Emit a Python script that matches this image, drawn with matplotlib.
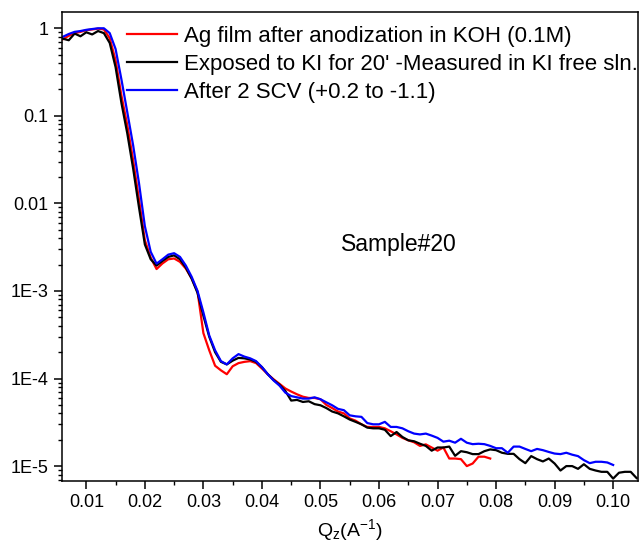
import numpy as np
import matplotlib
matplotlib.use("Agg")
import matplotlib.pyplot as plt
from matplotlib.ticker import FixedLocator, MultipleLocator, NullFormatter, LogLocator

plt.rcParams['font.family'] = ['Liberation Sans', 'DejaVu Sans']
plt.rcParams['mathtext.fontset'] = 'custom'
plt.rcParams['mathtext.rm'] = 'Liberation Sans'
plt.rcParams['mathtext.it'] = 'Liberation Sans'

# Ag film after anodization in KOH (0.1M) -- q from 0.006 to 0.079
q_red = np.round(np.arange(0.006, 0.0795, 0.001), 3)
r_red = [0.75, 0.82, 0.88, 0.91, 0.95, 0.97, 0.99, 0.97, 0.77, 0.43,
         0.17, 0.078, 0.031, 0.011, 3.8e-3, 2.4e-3, 1.78e-3, 2.06e-3, 2.3e-3, 2.35e-3,
         2.15e-3, 1.8e-3, 1.39e-3, 9.8e-4, 3.3e-4, 2.1e-4, 1.4e-4, 1.24e-4, 1.12e-4, 1.38e-4,
         1.5e-4, 1.55e-4, 1.58e-4, 1.5e-4, 1.3e-4, 1.12e-4, 9.8e-5, 8.7e-5, 7.7e-5, 7.1e-5,
         6.6e-5, 6.2e-5, 6.0e-5, 6.0e-5, 5.8e-5, 5.0e-5, 4.6e-5, 4.2e-5, 4.0e-5, 3.5e-5,
         3.3e-5, 3.0e-5, 2.8e-5, 2.8e-5, 2.8e-5, 2.7e-5, 2.5e-5, 2.3e-5, 2.1e-5, 1.97e-5,
         1.87e-5, 1.7e-5, 1.77e-5, 1.63e-5, 1.5e-5, 1.63e-5, 1.22e-5, 1.22e-5, 1.2e-5, 1.0e-5,
         1.07e-5, 1.28e-5, 1.28e-5, 1.22e-5]

# Exposed to KI for 20' -- q from 0.006 to 0.104
q_black = np.round(np.arange(0.006, 0.1045, 0.001), 3)
r_black = [0.76, 0.73, 0.87, 0.81, 0.90, 0.85, 0.93, 0.88, 0.68, 0.36,
           0.14, 0.063, 0.025, 9e-3, 3.4e-3, 2.3e-3, 1.95e-3, 2.2e-3, 2.45e-3, 2.55e-3,
           2.3e-3, 1.85e-3, 1.38e-3, 9.5e-4, 5.2e-4, 3.0e-4, 2.0e-4, 1.55e-4, 1.45e-4, 1.6e-4,
           1.72e-4, 1.7e-4, 1.65e-4, 1.55e-4, 1.35e-4, 1.12e-4, 9.6e-5, 8.5e-5, 7.2e-5, 5.6e-5,
           5.7e-5, 5.4e-5, 5.5e-5, 5.1e-5, 4.95e-5, 4.6e-5, 4.2e-5, 4.0e-5, 3.7e-5, 3.4e-5,
           3.2e-5, 3.0e-5, 2.75e-5, 2.7e-5, 2.7e-5, 2.6e-5, 2.2e-5, 2.45e-5, 2.15e-5, 1.97e-5,
           1.92e-5, 1.8e-5, 1.7e-5, 1.5e-5, 1.63e-5, 1.63e-5, 1.67e-5, 1.31e-5, 1.48e-5, 1.44e-5,
           1.37e-5, 1.37e-5, 1.48e-5, 1.55e-5, 1.52e-5, 1.42e-5, 1.38e-5, 1.38e-5, 1.2e-5, 1.08e-5,
           1.3e-5, 1.2e-5, 1.13e-5, 1.22e-5, 1.07e-5, 8.9e-6, 1.0e-5, 1.0e-5, 9.3e-6, 1.05e-5,
           9.3e-6, 8.9e-6, 8.6e-6, 8.6e-6, 7.2e-6, 8.4e-6, 8.6e-6, 8.6e-6, 7.3e-6]

# After 2 SCV -- q from 0.006 to 0.100
q_blue = np.round(np.arange(0.006, 0.1005, 0.001), 3)
r_blue = [0.80, 0.86, 0.91, 0.93, 0.96, 0.98, 1.0, 1.0, 0.88, 0.58,
          0.26, 0.11, 0.046, 0.017, 5.5e-3, 2.8e-3, 2.05e-3, 2.3e-3, 2.6e-3, 2.7e-3,
          2.45e-3, 1.95e-3, 1.45e-3, 1.0e-3, 5.7e-4, 3.1e-4, 2.1e-4, 1.58e-4, 1.45e-4, 1.7e-4,
          1.9e-4, 1.78e-4, 1.7e-4, 1.58e-4, 1.35e-4, 1.12e-4, 9.5e-5, 8.3e-5, 6.9e-5, 6.3e-5,
          6.1e-5, 5.9e-5, 5.9e-5, 6.1e-5, 5.8e-5, 5.35e-5, 4.95e-5, 4.5e-5, 4.35e-5, 3.8e-5,
          3.7e-5, 3.65e-5, 3.1e-5, 3.0e-5, 3.0e-5, 3.2e-5, 2.8e-5, 2.8e-5, 2.7e-5, 2.5e-5,
          2.35e-5, 2.3e-5, 2.35e-5, 2.23e-5, 2.1e-5, 1.9e-5, 1.95e-5, 1.85e-5, 2.05e-5, 1.85e-5,
          1.78e-5, 1.8e-5, 1.78e-5, 1.7e-5, 1.6e-5, 1.6e-5, 1.42e-5, 1.67e-5, 1.67e-5, 1.57e-5,
          1.48e-5, 1.57e-5, 1.52e-5, 1.45e-5, 1.39e-5, 1.37e-5, 1.42e-5, 1.35e-5, 1.3e-5, 1.17e-5,
          1.08e-5, 1.12e-5, 1.12e-5, 1.1e-5, 1.03e-5]

labels = ["Ag film after anodization in KOH (0.1M)",
          "Exposed to KI for 20' -Measured in KI free sln.",
          "After 2 SCV (+0.2 to -1.1)"]
y_ticks = [1e-5, 1e-4, 1e-3, 1e-2, 1e-1, 1]
y_ticklabels = ["1E-5", "1E-4", "1E-3", "0.01", "0.1", "1"]
x_ticks = [0.01, 0.02, 0.03, 0.04, 0.05, 0.06, 0.07, 0.08, 0.09, 0.10]

fig = plt.figure(figsize=(6.41, 5.5), dpi=100)
ax = fig.add_axes([0.0963, 0.1255, 0.8986, 0.8527])

ax.plot(q_red, r_red, color='red', lw=1.6, label=labels[0])
ax.plot(q_black, r_black, color='black', lw=1.6, label=labels[1])
ax.plot(q_blue, r_blue, color='blue', lw=1.6, label=labels[2])

ax.set_yscale('log')
ax.set_xlim(0.0058, 0.1042)
ax.set_ylim(10 ** -5.17, 10 ** 0.186)

ax.yaxis.set_major_locator(FixedLocator(y_ticks))
ax.set_yticklabels(y_ticklabels)
ax.yaxis.set_minor_locator(LogLocator(base=10, subs=np.arange(2, 10)))
ax.yaxis.set_minor_formatter(NullFormatter())
ax.xaxis.set_major_locator(FixedLocator(x_ticks))
ax.set_xticklabels([f"{v:.2f}" for v in x_ticks])
ax.xaxis.set_minor_locator(MultipleLocator(0.005))

ax.tick_params(which='major', direction='out', length=6, width=1.1, labelsize=13)
ax.tick_params(which='minor', direction='out', length=3, width=1.0)
ax.tick_params(top=False, right=False)
for s in ax.spines.values():
    s.set_linewidth(1.1)

ax.set_xlabel(r"Q$_\mathregular{z}$(A$^\mathregular{-1}$)", fontsize=14, labelpad=4)

ax.legend(loc='upper left', bbox_to_anchor=(127 / 641, 1 - 26 / 550),
          bbox_transform=fig.transFigure, frameon=False, fontsize=16,
          handlelength=2.25, handletextpad=0.3, labelspacing=0.31,
          borderpad=0, borderaxespad=0)

ax.text(0.5856, 0.505, "Sample#20", transform=ax.transAxes,
        ha='center', va='center', fontsize=16.5)

fig.savefig("out.png", dpi=100)
